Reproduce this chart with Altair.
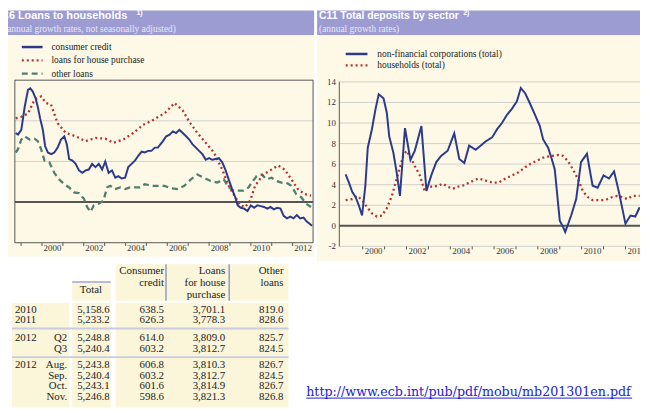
import altair as alt
import pandas as pd

# ------------------------------------------------------------------
# Data
# C6 Loans to households (annual growth rates, not seasonally adjusted)
CC_T = [1998.74, 1998.85, 1999.01, 1999.17, 1999.33, 1999.44, 1999.56, 1999.69, 1999.80, 1999.91,
        2000.04, 2000.15, 2000.28, 2000.44, 2000.59, 2000.75, 2000.91, 2001.07, 2001.19, 2001.30,
        2001.46, 2001.61, 2001.77, 2001.93, 2002.09, 2002.24, 2002.40, 2002.56, 2002.72, 2002.88,
        2003.03, 2003.19, 2003.35, 2003.51, 2003.66, 2003.82, 2003.98, 2004.13, 2004.29, 2004.45,
        2004.61, 2004.77, 2004.92, 2005.08, 2005.24, 2005.40, 2005.55, 2005.79, 2005.95, 2006.11,
        2006.27, 2006.42, 2006.58, 2006.74, 2006.90, 2007.05, 2007.21, 2007.37, 2007.52, 2007.68,
        2007.84, 2008.00, 2008.15, 2008.31, 2008.47, 2008.63, 2008.78, 2008.94, 2009.10, 2009.25,
        2009.37, 2009.52, 2009.68, 2009.84, 2010.00, 2010.16, 2010.31, 2010.47, 2010.63, 2010.79,
        2010.94, 2011.10, 2011.26, 2011.42, 2011.57, 2011.73, 2011.89, 2012.04, 2012.20, 2012.36,
        2012.52, 2012.68, 2012.83, 2012.93]
CC_V = [8.5, 8.3, 8.9, 11.7, 13.8, 14.0, 13.6, 12.8, 11.7, 10.3,
        8.9, 6.9, 6.1, 5.9, 6.1, 6.7, 7.7, 8.1, 7.1, 5.3,
        5.1, 4.7, 3.9, 3.6, 3.9, 4.0, 4.7, 4.3, 4.7, 4.0,
        5.0, 3.6, 3.9, 3.0, 3.2, 2.9, 3.0, 4.3, 4.7, 5.1,
        5.7, 6.2, 6.1, 6.3, 6.3, 6.7, 6.7, 7.5, 8.1, 8.3,
        8.7, 8.5, 8.9, 8.5, 8.1, 7.7, 7.1, 6.7, 6.3, 5.9,
        5.2, 5.4, 5.2, 5.3, 5.4, 4.9, 4.0, 2.8, 1.6, 0.6,
        -0.4, -0.7, -0.8, -1.1, -0.4, -0.7, -0.4, -0.5, -0.6, -0.8,
        -0.6, -0.9, -0.7, -0.8, -1.7, -2.0, -1.8, -2.0, -1.6, -2.0,
        -1.9, -2.4, -2.7, -2.9]

HP_T = [1998.74, 1999.01, 1999.33, 1999.64, 1999.96, 2000.19, 2000.43, 2000.75, 2001.14, 2001.61,
        2002.08, 2002.56, 2003.03, 2003.42, 2003.90, 2004.37, 2004.84, 2005.32, 2005.71, 2005.95,
        2006.34, 2006.73, 2007.05, 2007.44, 2007.84, 2008.23, 2008.63, 2008.94, 2009.26, 2009.49,
        2009.73, 2009.97, 2010.20, 2010.60, 2010.99, 2011.31, 2011.62, 2011.94, 2012.25, 2012.57,
        2012.88]
HP_V = [10.3, 10.5, 10.9, 12.6, 13.0, 12.2, 12.0, 9.7, 8.5, 8.1,
        7.5, 7.9, 7.8, 7.3, 7.7, 8.5, 9.5, 10.1, 10.7, 11.1,
        12.2, 11.3, 9.9, 8.5, 7.3, 6.1, 4.0, 2.0, 0.6, -0.4,
        -0.6, 0.2, 2.0, 3.4, 4.0, 4.5, 4.0, 2.8, 1.6, 1.0,
        0.8]

OL_T = [1998.74, 1998.85, 1999.01, 1999.17, 1999.41, 1999.64, 1999.80, 1999.96, 2000.12, 2000.35,
        2000.59, 2000.82, 2001.06, 2001.30, 2001.53, 2001.77, 2002.01, 2002.16, 2002.32, 2002.48,
        2002.72, 2002.95, 2003.11, 2003.27, 2003.50, 2003.74, 2003.98, 2004.21, 2004.45, 2004.69,
        2004.92, 2005.24, 2005.55, 2005.87, 2006.18, 2006.50, 2006.81, 2007.13, 2007.44, 2007.76,
        2008.07, 2008.39, 2008.70, 2008.94, 2009.18, 2009.41, 2009.65, 2009.89, 2010.04, 2010.28,
        2010.52, 2010.75, 2010.99, 2011.23, 2011.46, 2011.70, 2011.94, 2012.17, 2012.41, 2012.65,
        2012.88]
OL_V = [6.1, 6.5, 7.7, 8.1, 7.7, 7.8, 7.5, 6.5, 5.1, 4.9,
        3.6, 2.8, 2.2, 1.8, 1.2, 1.1, 0.4, -0.6, -1.2, -0.4,
        -0.2, 0.2, 1.8, 2.0, 1.6, 1.8, 1.6, 1.8, 1.8, 1.8,
        2.2, 2.0, 2.0, 2.0, 1.7, 1.6, 2.0, 2.8, 3.4, 3.0,
        2.6, 2.4, 2.8, 1.8, 1.4, 1.4, 1.4, 1.8, 2.4, 3.2,
        3.4, 2.8, 3.0, 2.6, 2.4, 2.4, 2.0, 1.0, 0.6, -0.2,
        -0.6]

# C11 Total deposits by sector (annual growth rates)
NFC_T = [1999.22, 1999.37, 1999.52, 1999.67, 1999.82, 1999.97, 2000.12, 2000.23, 2000.42, 2000.58,
         2000.73, 2000.95, 2001.10, 2001.21, 2001.40, 2001.55, 2001.70, 2001.93, 2002.18, 2002.38,
         2002.68, 2002.91, 2003.13, 2003.36, 2003.58, 2003.88, 2004.18, 2004.41, 2004.64, 2004.86,
         2005.16, 2005.61, 2005.91, 2006.14, 2006.36, 2006.59, 2006.82, 2007.04, 2007.22, 2007.42,
         2007.64, 2007.87, 2008.09, 2008.24, 2008.47, 2008.62, 2008.77, 2008.89, 2009.00, 2009.15,
         2009.25, 2009.37, 2009.52, 2009.75, 2009.97, 2010.24, 2010.50, 2010.73, 2011.00, 2011.25,
         2011.48, 2011.70, 2012.00, 2012.23, 2012.45, 2012.65]
NFC_V = [5.0, 4.2, 3.3, 2.8, 2.0, 1.0, 3.9, 7.6, 9.4, 11.3,
         12.8, 12.4, 11.0, 8.7, 7.1, 5.2, 2.9, 9.5, 6.4, 7.3,
         9.7, 3.4, 4.9, 6.2, 6.8, 7.3, 9.0, 6.5, 6.1, 7.8,
         7.4, 8.2, 8.6, 9.4, 10.0, 10.8, 11.4, 12.1, 13.4, 12.9,
         11.9, 10.8, 9.7, 8.4, 7.6, 6.6, 5.5, 2.9, 0.5, -0.1,
         -0.6, 0.1, 1.0, 2.6, 6.2, 7.0, 3.9, 3.7, 4.9, 4.6,
         5.3, 3.3, 0.2, 1.0, 0.9, 1.8]

HH_T = [1999.22, 1999.52, 1999.75, 1999.97, 2000.20, 2000.42, 2000.65, 2000.88, 2001.10, 2001.33,
        2001.55, 2001.70, 2001.85, 2002.00, 2002.15, 2002.38, 2002.61, 2002.83, 2002.98, 2003.21,
        2003.43, 2003.66, 2003.88, 2004.11, 2004.33, 2004.56, 2004.86, 2005.16, 2005.31, 2005.61,
        2005.91, 2006.21, 2006.52, 2006.82, 2007.12, 2007.42, 2007.72, 2008.02, 2008.32, 2008.62,
        2008.92, 2009.15, 2009.37, 2009.60, 2009.82, 2010.05, 2010.27, 2010.50, 2010.73, 2010.95,
        2011.18, 2011.40, 2011.63, 2011.85, 2012.08, 2012.31, 2012.65]
HH_V = [2.5, 2.6, 2.9, 2.5, 1.8, 1.2, 0.9, 1.0, 1.7, 2.9,
        4.6, 5.7, 6.8, 7.3, 6.8, 5.8, 4.9, 3.4, 3.8, 3.8,
        3.9, 4.1, 3.8, 3.6, 3.8, 3.9, 4.2, 4.5, 4.6, 4.4,
        4.2, 4.2, 4.6, 4.9, 5.2, 5.7, 6.1, 6.4, 6.7, 6.8,
        6.9, 6.8, 6.3, 5.5, 4.6, 3.4, 2.8, 2.5, 2.5, 2.5,
        2.6, 2.8, 2.9, 2.8, 2.6, 2.9, 2.9]

YEAR_LABELS = [2000, 2002, 2004, 2006, 2008, 2010, 2012]
LEFT_GRID = [5, 10]
RIGHT_TICKS = [-2, 0, 2, 4, 6, 8, 10, 12, 14]

# Table (EUR billions)
ROW_YEAR = ["2010", "2011", "2012", "", "2012", "", "", ""]
ROW_PERIOD = ["", "", "Q2", "Q3", "Aug.", "Sep.", "Oct.", "Nov."]
TOTAL = [5158.6, 5233.2, 5248.8, 5240.4, 5243.8, 5240.4, 5243.1, 5246.8]
CONSUMER = [638.5, 626.3, 614.0, 603.2, 606.8, 603.2, 601.6, 598.6]
HOUSE = [3701.1, 3778.3, 3809.0, 3812.7, 3810.3, 3812.7, 3814.9, 3821.3]
OTHER = [819.0, 828.6, 825.7, 824.5, 826.7, 824.5, 826.7, 826.8]

URL = "http://www.ecb.int/pub/pdf/mobu/mb201301en.pdf"

# ------------------------------------------------------------------
# Layout and style
W, H = 640, 402
PURPLE = "#9c9cd2"
CREAM = "#fdf9e6"
TCREAM = "#fbf5da"
BLUE = "#2b3a8c"
RED = "#b8312f"
GREEN = "#4f7f70"
GRID = "#cfcfcf"
AXIS = "#555555"
SERIF = "Liberation Serif"
SANS = "Liberation Sans"
TFS = 11  # table font size

ROW_Y = [303, 313.5, 332, 342.5, 359.5, 370, 380.5, 391]

LX = alt.Scale(domain=[2000.5, 2012.5], range=[45.0, 298.8], nice=False, zero=False)
LY = alt.Scale(domain=[-5, 15], range=[235.15, 70.55], nice=False, zero=False)
RX = alt.Scale(domain=[2000.5, 2010.5], range=[370.3, 592.0], nice=False, zero=False)
RY = alt.Scale(domain=[-2, 14], range=[238.8, 72.3], nice=False, zero=False)
L_T0, L_T1 = 1998.70, 2012.98
R_T0, R_T1 = 1998.93, 2013.6

ONE = pd.DataFrame({"k": [0]})


def rect(x1, x2, y1, y2, fill):
    return alt.Chart(ONE).mark_rect(fill=fill).encode(
        x=alt.value(x1), x2=alt.value(x2), y=alt.value(y1), y2=alt.value(y2))


def seg(x1, x2, y, color, width, dash=None):
    kw = dict(color=color, strokeWidth=width)
    if dash:
        kw["strokeDash"] = dash
    return alt.Chart(ONE).mark_rule(**kw).encode(
        x=alt.value(x1), x2=alt.value(x2), y=alt.value(y))


def vseg(x, y1, y2, color, width):
    return alt.Chart(ONE).mark_rule(color=color, strokeWidth=width).encode(
        x=alt.value(x), y=alt.value(y1), y2=alt.value(y2))


def txt(s, x, y, size, color="#222222", font=SERIF, align="left", weight="normal", baseline="middle"):
    return alt.Chart(pd.DataFrame({"s": [s]})).mark_text(
        align=align, baseline=baseline, font=font, fontSize=size, color=color,
        fontWeight=weight).encode(x=alt.value(x), y=alt.value(y), text="s:N")


def series(t, v, xs, ys, color, width, dash=None):
    kw = dict(color=color, strokeWidth=width, interpolate="linear")
    if dash:
        kw["strokeDash"] = dash
    df = pd.DataFrame({"t": t, "v": v})
    return alt.Chart(df).mark_line(**kw).encode(
        x=alt.X("t:Q", scale=xs, axis=None), y=alt.Y("v:Q", scale=ys, axis=None))


def hrules(vals, t0, t1, xs, ys, color, width):
    n = len(vals)
    df = pd.DataFrame({"v": vals, "t0": [t0] * n, "t1": [t1] * n})
    return alt.Chart(df).mark_rule(color=color, strokeWidth=width).encode(
        x=alt.X("t0:Q", scale=xs, axis=None), x2="t1:Q",
        y=alt.Y("v:Q", scale=ys, axis=None))


def vrules(ts, v0, v1, xs, ys, color, width):
    n = len(ts)
    df = pd.DataFrame({"t": ts, "v0": [v0] * n, "v1": [v1] * n})
    return alt.Chart(df).mark_rule(color=color, strokeWidth=width).encode(
        x=alt.X("t:Q", scale=xs, axis=None),
        y=alt.Y("v0:Q", scale=ys, axis=None), y2="v1:Q")


def xlabels(xs, ypix):
    df = pd.DataFrame({"lab": [str(y) for y in YEAR_LABELS],
                       "pos": [y + 0.5 for y in YEAR_LABELS]})
    return alt.Chart(df).mark_text(font=SERIF, fontSize=9, color="#333333",
                                   baseline="middle", align="center").encode(
        x=alt.X("pos:Q", scale=xs, axis=None), y=alt.value(ypix), text="lab:N")


layers = []

# panel backgrounds
layers += [
    rect(0, 310, 0, 25, PURPLE),
    rect(0, 310, 25, 249, CREAM),
    rect(313, 640, 0, 25, PURPLE),
    rect(313, 640, 25, 254, CREAM),
]

# table backgrounds
layers += [
    rect(109, 284, 257, 294, TCREAM),
    rect(65, 104, 275, 294, TCREAM),
    rect(4, 62, 296, 402, TCREAM),
    rect(65, 104, 296, 402, TCREAM),
    rect(109, 284, 296, 402, TCREAM),
    seg(65, 104, 275, "#9fa8c8", 1.5),
    vseg(160, 257, 294, "#8d9cc6", 1.5),
    vseg(224, 257, 294, "#8d9cc6", 1.5),
    seg(4, 284, 322, "#c8cce0", 2),
    seg(4, 284, 351, "#c8cce0", 2),
]

# left plot: grid, zero line, frame
left_frame = pd.DataFrame({"t0": [L_T0], "t1": [L_T1], "v0": [-5], "v1": [15]})
layers += [
    hrules(LEFT_GRID, L_T0, L_T1, LX, LY, GRID, 1),
    hrules([0], L_T0, L_T1, LX, LY, AXIS, 2),
    alt.Chart(left_frame).mark_rect(fillOpacity=0, stroke=AXIS, strokeWidth=1).encode(
        x=alt.X("t0:Q", scale=LX, axis=None), x2="t1:Q",
        y=alt.Y("v0:Q", scale=LY, axis=None), y2="v1:Q"),
    vrules(list(range(1999, 2013)), -5, -5.4, LX, LY, AXIS, 1),
    xlabels(LX, 241),
]

# right plot: grid, zero line, axis
layers += [
    hrules(RIGHT_TICKS, R_T0, R_T1, RX, RY, GRID, 1),
    hrules([0], R_T0, R_T1, RX, RY, AXIS, 2),
    vrules([R_T0], -2, 14, RX, RY, AXIS, 1),
    vrules(list(range(2000, 2013)), -2, -2.3, RX, RY, AXIS, 1),
    xlabels(RX, 244),
    alt.Chart(pd.DataFrame({"v": RIGHT_TICKS, "lab": [str(v) for v in RIGHT_TICKS]})).mark_text(
        font=SERIF, fontSize=9, color="#333333", align="right", baseline="middle").encode(
        x=alt.value(332), y=alt.Y("v:Q", scale=RY, axis=None), text="lab:N"),
]

# series
layers += [
    series(OL_T, OL_V, LX, LY, GREEN, 2.3, [6, 4]),
    series(HP_T, HP_V, LX, LY, RED, 2.3, [2, 3]),
    series(CC_T, CC_V, LX, LY, BLUE, 2),
    series(HH_T, HH_V, RX, RY, RED, 2.3, [2, 3]),
    series(NFC_T, NFC_V, RX, RY, BLUE, 2),
]

# legends
layers += [
    seg(14, 35, 37, BLUE, 2.5),
    txt("consumer credit", 44, 37, 9.5),
    seg(14, 35, 50.5, RED, 2.3, [2, 3]),
    txt("loans for house purchase", 44, 50.5, 9.5),
    seg(14, 35, 64, GREEN, 2.3, [6, 4]),
    txt("other loans", 44, 64, 9.5),
    seg(342, 364, 44, BLUE, 2.5),
    txt("non-financial corporations (total)", 374, 44, 9.5),
    seg(342, 364, 55.5, RED, 2.3, [2, 3]),
    txt("households (total)", 374, 55.5, 9.5),
]

# titles
layers += [
    txt("C6 Loans to households", -7, 6, 11, "white", SANS, weight="bold"),
    txt("1)", 130, 3, 7, "white", SANS, weight="bold"),
    txt("(annual growth rates, not seasonally adjusted)", -4, 19, 9.5, "#e6e6f6"),
    txt("C11 Total deposits by sector", 315, 6, 10.5, "white", SANS, weight="bold"),
    txt("2)", 461, 3, 7, "white", SANS, weight="bold"),
    txt("(annual growth rates)", 315, 19, 9.5, "#e6e6f6"),
]

# table text
tbl = pd.DataFrame({"ry": ROW_Y, "year": ROW_YEAR, "per": ROW_PERIOD, "total": TOTAL,
                    "cons": CONSUMER, "house": HOUSE, "other": OTHER})


def col(field, x, align, fmt=None):
    text = alt.Text(field + ":Q", format=fmt) if fmt else alt.Text(field + ":N")
    return alt.Chart(tbl).mark_text(font=SERIF, fontSize=TFS, color="#222222",
                                    align=align, baseline="middle").encode(
        x=alt.value(x), y=alt.Y("ry:Q", scale=None, axis=None), text=text)


layers += [
    col("year", 7, "left"),
    col("per", 60, "right"),
    col("total", 103, "right", ",.1f"),
    col("cons", 158, "right", ",.1f"),
    col("house", 220, "right", ",.1f"),
    col("other", 279, "right", ",.1f"),
    txt("Consumer", 158, 263.5, TFS, align="right"),
    txt("credit", 158, 275.5, TFS, align="right"),
    txt("Loans", 220, 263.5, TFS, align="right"),
    txt("for house", 220, 275.5, TFS, align="right"),
    txt("purchase", 220, 288, TFS, align="right"),
    txt("Other", 279, 263.5, TFS, align="right"),
    txt("loans", 279, 275.5, TFS, align="right"),
    txt("Total", 84, 283, TFS, align="center"),
]

# URL
layers += [
    txt(URL, 302, 390, 12.8, "#2020d8", "DejaVu Serif", baseline="alphabetic"),
    seg(302, 632, 392.5, "#2020d8", 1),
]

chart = alt.layer(*layers).resolve_scale(x="independent", y="independent").properties(
    width=W, height=H, padding=0, background="white",
    autosize=alt.AutoSizeParams(type="none")
).configure_view(strokeWidth=0)

chart.save("out.html", embed_options={"renderer": "svg", "actions": False})
